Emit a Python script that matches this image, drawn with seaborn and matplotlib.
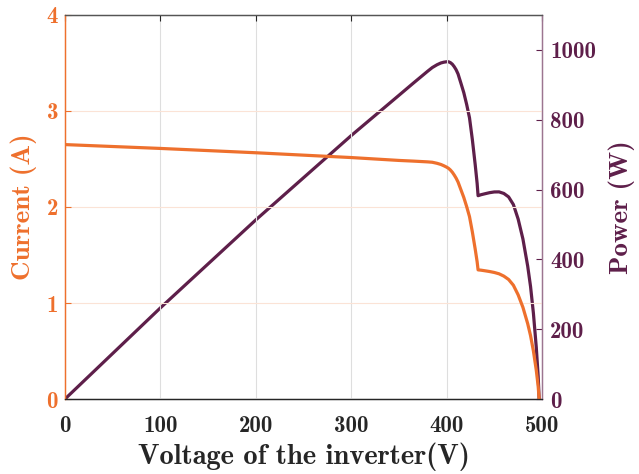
import matplotlib
matplotlib.use("Agg")
import matplotlib.pyplot as plt
import seaborn as sns
import pandas as pd

# PV string sweep: inverter voltage (V), current (A), power (W)
voltage = [0, 100, 200, 300, 350, 365, 380, 385, 390, 394, 397, 400, 402,
           404, 406, 408, 410, 412, 415, 418, 421, 424, 427, 430, 432, 433,
           436, 440, 445, 450, 455, 460, 465, 470, 475, 480, 485, 488, 491,
           494, 496, 497]
current = [2.65, 2.61, 2.565, 2.515, 2.485, 2.478, 2.47, 2.466, 2.455,
           2.443, 2.43, 2.415, 2.403, 2.385, 2.362, 2.333, 2.30, 2.26, 2.18,
           2.10, 2.005, 1.90, 1.74, 1.56, 1.43, 1.345, 1.342, 1.336, 1.328,
           1.318, 1.304, 1.28, 1.245, 1.185, 1.085, 0.955, 0.785, 0.66, 0.50,
           0.30, 0.13, 0.0]
power = [0.0, 261.0, 513.0, 754.5, 869.8, 904.5, 938.6, 949.4, 957.5, 962.5,
         964.7, 966.0, 966.0, 963.5, 959.0, 951.9, 943.0, 931.1, 904.7, 877.8,
         844.1, 805.6, 743.0, 670.8, 617.8, 582.4, 585.1, 587.8, 591.0, 593.1,
         593.3, 588.8, 578.9, 557.0, 515.4, 458.4, 380.7, 322.1, 245.5, 148.2,
         64.5, 0.0]

x_ticks = [0, 100, 200, 300, 400, 500]
i_ticks = [0, 1, 2, 3, 4]
p_ticks = [0, 200, 400, 600, 800, 1000]

df = pd.DataFrame({"voltage": voltage, "current": current, "power": power})

sns.set_style("white")
plt.rcParams["font.family"] = ["cmb10", "DejaVu Serif"]
plt.rcParams["axes.unicode_minus"] = False
plt.rcParams["axes.formatter.use_mathtext"] = False

ORANGE = "#EE702D"
PURPLE = "#5E1F4A"
PURPLE_SPINE = "#9C7590"
TICK_FS = 16.5
LABEL_FS = 19.5

fig = plt.figure(figsize=(6.39, 4.74), dpi=100)
ax = fig.add_axes([0.1017, 0.1582, 0.7465, 0.8102])
ax2 = ax.twinx()

sns.lineplot(data=df, x="voltage", y="current", ax=ax, color=ORANGE,
             linewidth=2.3, sort=False)
sns.lineplot(data=df, x="voltage", y="power", ax=ax2, color=PURPLE,
             linewidth=2.3, sort=False)

ax.set_xlim(0, 500)
ax.set_ylim(0, 4)
ax2.set_ylim(0, 1100)
ax.set_xticks(x_ticks)
ax.set_yticks(i_ticks)
ax2.set_yticks(p_ticks)

# grid: grey vertical lines, faint orange horizontal lines
for xv in x_ticks[1:-1]:
    ax.axvline(xv, color="#DEDEDE", linewidth=0.8, zorder=0)
for yv in i_ticks[1:-1]:
    ax.axhline(yv, color="#FBE3D6", linewidth=0.8, zorder=0)

ax.set_xlabel("Voltage of the inverter(V)", fontsize=20.5,
              color="#262626", labelpad=4)
ax.set_ylabel("Current (A)", fontsize=LABEL_FS, color=ORANGE, labelpad=7)
ax2.set_ylabel("Power (W)", fontsize=LABEL_FS, color=PURPLE, labelpad=9)

ax.tick_params(axis="x", direction="in", length=4, width=0.8,
               colors="#262626", labelsize=TICK_FS, pad=11.5, top=True)
ax.tick_params(axis="y", direction="in", length=4, width=0.8,
               colors=ORANGE, labelsize=TICK_FS, pad=5)
ax2.tick_params(axis="y", direction="in", length=4, width=0.8,
                colors=PURPLE, labelsize=TICK_FS, pad=6)

for a in (ax, ax2):
    a.spines["top"].set_color("#555555")
    a.spines["bottom"].set_color("#262626")
    a.spines["left"].set_color(ORANGE)
    a.spines["right"].set_color(PURPLE_SPINE)
    for s in a.spines.values():
        s.set_linewidth(0.9)
ax.set_zorder(ax2.get_zorder() + 1)
ax.patch.set_visible(False)

fig.savefig("out.png", dpi=100)
